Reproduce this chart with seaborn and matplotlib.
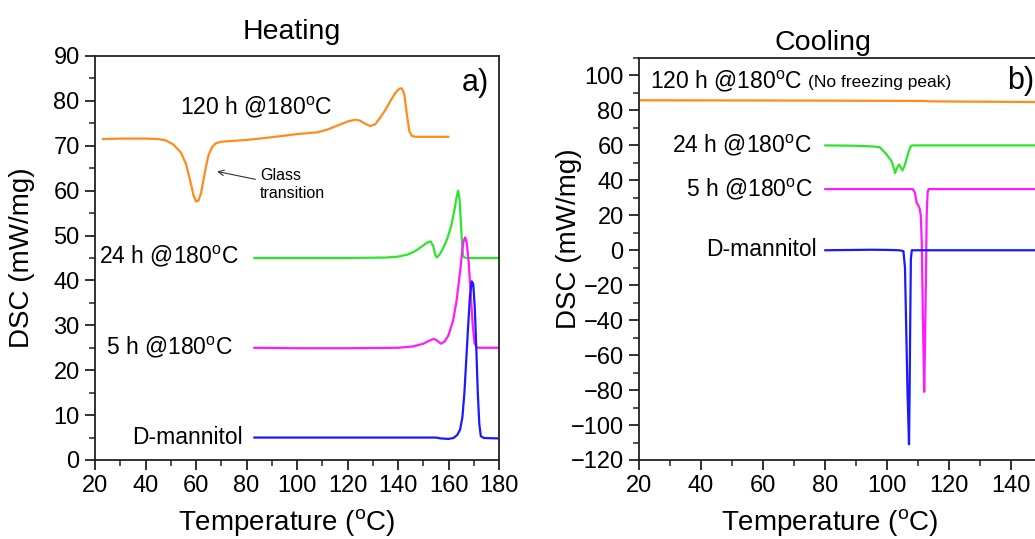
import numpy as np
import pandas as pd
import matplotlib
matplotlib.use('Agg')
import matplotlib.pyplot as plt
import seaborn as sns
from matplotlib.ticker import MultipleLocator, FuncFormatter

# ---------------- data ----------------
# Heating panel
heat_120h_T = [23, 30, 40, 45, 48, 51, 54, 56, 58, 59, 60, 61, 62, 63, 64, 65, 66.5, 68, 70,
               80, 90, 100, 108, 112, 116, 120, 123, 125, 127, 129, 131, 133, 135, 137, 139,
               140.5, 141.5, 142.5, 143.5, 144.5, 145.5, 147, 160]
heat_120h_dsc = [71.5, 71.6, 71.6, 71.5, 71.2, 70.3, 68.5, 66.0, 61.5, 59.0, 57.6, 57.8, 59.5,
                 62.5, 65.5, 68.0, 69.8, 70.6, 70.9, 71.3, 71.9, 72.6, 73.0, 73.6, 74.5, 75.4,
                 75.8, 75.6, 74.9, 74.4, 74.8, 76.3, 78.0, 80.0, 81.8, 82.7, 82.8, 81.5, 77.0,
                 73.2, 72.2, 72.0, 72.0]

heat_24h_T = [83, 100, 120, 135, 140, 144, 147, 149.5, 151.5, 152.9, 154.0, 154.8, 155.4,
              156.5, 158, 159.5, 161, 162.3, 163.2, 163.8, 164.4, 165.0, 165.5, 165.9, 167, 180]
heat_24h_dsc = [45.0, 45.0, 45.0, 45.1, 45.3, 45.8, 46.6, 47.6, 48.4, 48.7, 47.6, 45.6, 45.1,
                45.8, 47.3, 49.3, 52.0, 55.5, 58.5, 60.0, 58.0, 52.0, 47.0, 45.2, 45.0, 45.0]

heat_5h_T = [83, 100, 120, 140, 146, 150, 152.5, 154.2, 155.5, 157, 158.5, 160, 161.8, 163.2,
             164.6, 165.4, 166.0, 166.6, 167.2, 168.0, 168.8, 169.6, 170.3, 171.2, 172, 180]
heat_5h_dsc = [25.0, 24.9, 24.9, 25.0, 25.3, 25.9, 26.6, 27.0, 26.6, 25.9, 26.4, 27.8, 31.0,
               35.5, 42.0, 46.5, 48.8, 49.6, 48.5, 44.0, 37.0, 30.0, 26.0, 25.1, 25.0, 25.0]

heat_man_T = [83, 100, 120, 140, 155, 157, 160, 162, 163.5, 164.6, 165.5, 166.3, 167.0, 167.8,
              168.5, 169.2, 169.8, 170.4, 171.0, 171.6, 172.2, 172.8, 174, 180]
heat_man_dsc = [5.0, 5.0, 5.0, 5.0, 5.0, 4.8, 4.7, 4.9, 5.6, 6.8, 9.5, 15.0, 22.0, 30.0, 36.5,
                39.8, 39.2, 34.0, 25.0, 15.0, 8.0, 5.3, 4.9, 4.8]

# Cooling panel
cool_120h_T = [20, 60, 100, 112, 114, 140, 160]
cool_120h_dsc = [85.8, 85.7, 85.5, 85.4, 85.2, 84.9, 84.7]

cool_24h_T = [80, 90, 95.5, 97.7, 99.9, 101.5, 102.3, 102.6, 103.2, 103.9, 104.5, 105.0, 105.7,
              106.4, 107.0, 107.6, 108.2, 120, 160]
cool_24h_dsc = [60.0, 59.8, 59.4, 58.9, 54.8, 50.8, 46.5, 44.2, 47.0, 49.0, 47.2, 45.7, 48.5,
                52.8, 56.5, 59.4, 60.0, 60.0, 60.0]

cool_5h_T = [80, 100, 108.3, 109.0, 109.6, 110.0, 110.5, 110.9, 111.2, 111.6, 112.0, 112.3,
             112.6, 112.8, 113.1, 113.4, 160]
cool_5h_dsc = [35.0, 35.0, 35.0, 33.0, 27.0, 26.0, 24.0, 20.0, 5.0, -40.0, -81.0, -50.0, -10.0,
               20.0, 33.0, 35.0, 35.0]

cool_man_T = [80, 95, 100, 104, 105.3, 105.8, 106.2, 106.6, 107.1, 107.3, 107.5, 107.7, 108.0,
              120, 160]
cool_man_dsc = [0.0, 0.3, 0.2, 0.0, -0.5, -10.0, -45.0, -80.0, -111.0, -80.0, -40.0, -5.0, 0.0,
                0.0, 0.0]

samples = ['120 h', '24 h', '5 h', 'D-mannitol']
palette = {'120 h': '#FF8C1A', '24 h': '#2CE62C', '5 h': '#FF1AFF', 'D-mannitol': '#1A1AFF'}

heat_series = {'120 h': (heat_120h_T, heat_120h_dsc), '24 h': (heat_24h_T, heat_24h_dsc),
               '5 h': (heat_5h_T, heat_5h_dsc), 'D-mannitol': (heat_man_T, heat_man_dsc)}
cool_series = {'120 h': (cool_120h_T, cool_120h_dsc), '24 h': (cool_24h_T, cool_24h_dsc),
               '5 h': (cool_5h_T, cool_5h_dsc), 'D-mannitol': (cool_man_T, cool_man_dsc)}


def to_frame(series):
    parts = []
    for name, (t, d) in series.items():
        parts.append(pd.DataFrame({'T': t, 'DSC': d, 'sample': name}))
    return pd.concat(parts, ignore_index=True)


df_heat = to_frame(heat_series)
df_cool = to_frame(cool_series)

# ---------------- style ----------------
sns.set_style('ticks')
plt.rcParams['font.family'] = ['Liberation Sans', 'DejaVu Sans']
plt.rcParams['mathtext.fontset'] = 'custom'
plt.rcParams['mathtext.rm'] = 'Liberation Sans'
plt.rcParams['mathtext.it'] = 'Liberation Sans:italic'
plt.rcParams['axes.linewidth'] = 1.3
plt.rcParams['axes.edgecolor'] = '#222222'
plt.rcParams['text.color'] = 'black'
plt.rcParams['axes.labelcolor'] = 'black'
plt.rcParams['xtick.color'] = 'black'
plt.rcParams['ytick.color'] = 'black'

DEG = r'$^\mathregular{o}$C'

fig = plt.figure(figsize=(10.35, 5.39), dpi=100)
fig.patch.set_facecolor('white')
ax1 = fig.add_axes([95 / 1035, 79 / 539, 404 / 1035, 404 / 539])
ax2 = fig.add_axes([639 / 1035, 79 / 539, 434 / 1035, 402 / 539])

for ax, df in ((ax1, df_heat), (ax2, df_cool)):
    sns.lineplot(data=df, x='T', y='DSC', hue='sample', hue_order=samples, palette=palette,
                 units='sample', estimator=None, sort=False, legend=False, lw=1.6, ax=ax)
    ax.set_xlim(20, 160 if ax is ax2 else 180)
    ax.xaxis.set_major_locator(MultipleLocator(20))
    ax.xaxis.set_minor_locator(MultipleLocator(10))
    ax.tick_params(which='major', direction='out', length=7, width=1.3, labelsize=17,
                   colors='#222222', labelcolor='black', pad=4)
    ax.tick_params(which='minor', direction='out', length=4, width=1.1, colors='#222222')
    ax.tick_params(top=False, right=False, which='both')
    for s in ax.spines.values():
        s.set_visible(True)
    ax.set_xlabel('Temperature (' + DEG + ')', fontsize=20)
    ax.set_ylabel('DSC (mW/mg)', fontsize=20)

# the 160 label of the cooling panel lies outside the visible picture
ax2.xaxis.set_major_formatter(FuncFormatter(lambda v, p: '' if v > 150 else f'{v:.0f}'))

# Heating axes
ax1.set_ylim(0, 90)
ax1.yaxis.set_major_locator(MultipleLocator(10))
ax1.yaxis.set_minor_locator(MultipleLocator(5))
ax1.yaxis.set_label_coords(-0.149, 0.5)
ax1.xaxis.set_label_coords(0.475, -0.117)
ax1.set_title('Heating', fontsize=20.5, x=0.488, pad=12)

ax1.text(53.7, 78.6, '120 h @180' + DEG, fontsize=16.5, ha='left', va='center')
ax1.text(77.0, 45.3, '24 h @180' + DEG, fontsize=16.5, ha='right', va='center')
ax1.text(74.8, 25.0, '5 h @180' + DEG, fontsize=16.5, ha='right', va='center')
ax1.text(78.6, 5.1, 'D-mannitol', fontsize=16.5, ha='right', va='center')
ax1.text(176.0, 84.0, 'a)', fontsize=22, ha='right', va='center')
ax1.text(85.3, 61.4, 'Glass\ntransition', fontsize=11.5, ha='left', va='center', linespacing=1.3)
ax1.annotate('', xy=(67.3, 64.4), xytext=(84.6, 62.4),
             arrowprops=dict(arrowstyle='->', lw=0.8, color='#333333'))

# Cooling axes
ax2.set_ylim(-120, 110)
ax2.yaxis.set_major_locator(MultipleLocator(20))
ax2.yaxis.set_minor_locator(MultipleLocator(10))
ax2.yaxis.set_label_coords(-0.131, 0.55)
ax2.xaxis.set_label_coords(0.44, -0.117)
ax2.set_title('Cooling', fontsize=20.5, x=0.424, pad=6)

ax2.text(23.5, 96.6, '120 h @180' + DEG, fontsize=16.5, ha='left', va='center')
ax2.text(74.5, 96.0, '(No freezing peak)', fontsize=12.5, ha='left', va='center')
ax2.text(75.8, 60.0, '24 h @180' + DEG, fontsize=16.5, ha='right', va='center')
ax2.text(76.0, 35.0, '5 h @180' + DEG, fontsize=16.5, ha='right', va='center')
ax2.text(77.4, 0.5, 'D-mannitol', fontsize=16.5, ha='right', va='center')
ax2.text(138.7, 96.6, 'b)', fontsize=22, ha='left', va='center')

fig.savefig('out.png', dpi=100)
